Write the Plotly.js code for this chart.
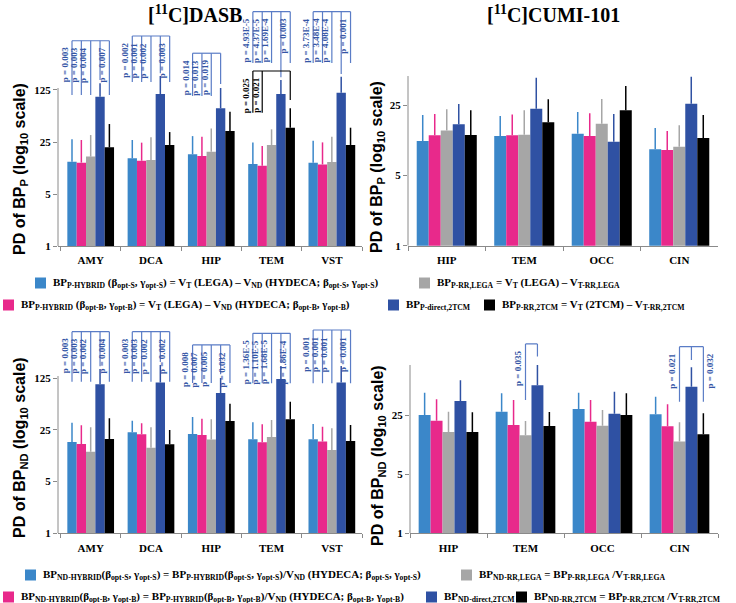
<!DOCTYPE html>
<html><head><meta charset="utf-8">
<script src="https://cdn.plot.ly/plotly-3.0.1.min.js"></script>
<style>body{margin:0;padding:0;background:#fff}#chart{width:736px;height:603px}</style>
</head><body><div id="chart"></div>
<script>
// ---------------- DATA ----------------
const dasbRegions = ['AMY','DCA','HIP','TEM','VST'];
const cumiRegions = ['HIP','TEM','OCC','CIN'];
const seriesColors = ['#3b87c9','#e8298b','#a6a6a6','#2f51a3','#000000'];

// [11C]DASB, PD of BP_P (mean, upper SD)
const dasbP_hybS   = [13.6, 15.1, 17.1, 12.65, 13.2];
const dasbP_hybB   = [13.2, 14.0, 16.2, 12.0, 12.5];
const dasbP_rrLega = [15.9, 14.3, 18.5, 22.8, 13.5];
const dasbP_direct = [101.6, 110, 70.9, 110, 115];
const dasbP_rr2tcm = [21.2, 22.8, 35.1, 38.9, 22.8];
const dasbP_hybS_sd   = [13.6, 11.5, 12.9, 11.9, 12.8];
const dasbP_hybB_sd   = [13.4, 10.5, 13.3, 10.1, 12.2];
const dasbP_rrLega_sd = [15.1, 14.6, 19.5, 14.2, 16.0];
const dasbP_direct_sd = [53, 83, 62, 60, 74];
const dasbP_rr2tcm_sd = [22.4, 11.2, 28.7, 32, 16.1];

// [11C]CUMI-101, PD of BP_P
const cumiP_hybS   = [11.0, 12.3, 13.0, 9.08];
const cumiP_hybB   = [12.5, 12.5, 12.3, 8.94];
const cumiP_rrLega = [14.0, 12.7, 16.3, 9.64];
const cumiP_direct = [16.1, 23.0, 10.8, 25.8];
const cumiP_rr2tcm = [12.6, 16.9, 22.2, 11.8];
const cumiP_hybS_sd   = [8.9, 7.2, 8.3, 5.7];
const cumiP_hybB_sd   = [7.9, 7.6, 8.4, 4.9];
const cumiP_rrLega_sd = [8.7, 9.5, 12.4, 6.1];
const cumiP_direct_sd = [9.5, 23.8, 9.6, 22.1];
const cumiP_rr2tcm_sd = [9.6, 11.6, 16.5, 8.1];

// [11C]DASB, PD of BP_ND
const dasbND_hybS   = [17.1, 23.1, 21.9, 18.6, 18.6];
const dasbND_hybB   = [16.1, 21.7, 21.2, 16.9, 17.3];
const dasbND_rrLega = [12.6, 14.3, 18.4, 20.0, 13.3];
const dasbND_direct = [102.8, 109, 78.4, 121, 109];
const dasbND_rr2tcm = [18.8, 15.9, 32.8, 34.6, 17.6];
const dasbND_hybS_sd   = [14.1, 10.0, 15.3, 12.9, 11.3];
const dasbND_hybB_sd   = [12.6, 8.9, 14.1, 12.7, 10.2];
const dasbND_rrLega_sd = [14.4, 12.7, 16.2, 13.9, 12.9];
const dasbND_direct_sd = [62, 78, 47, 61, 73];
const dasbND_rr2tcm_sd = [16.9, 8.9, 23.4, 25.2, 11.4];

// [11C]CUMI-101, PD of BP_ND
const cumiND_hybS   = [25.2, 27.6, 29.7, 25.7];
const cumiND_hybB   = [21.6, 19.2, 21.0, 18.5];
const cumiND_rrLega = [15.9, 14.5, 18.8, 12.2];
const cumiND_direct = [36.9, 56.7, 26.1, 54.6];
const cumiND_rr2tcm = [15.9, 18.7, 25.2, 14.9];
const cumiND_hybS_sd   = [21.1, 18.0, 16.6, 15.9];
const cumiND_hybB_sd   = [17.1, 18.7, 16.9, 15.2];
const cumiND_rrLega_sd = [11.7, 6.9, 10.1, 8.5];
const cumiND_direct_sd = [28.1, 41.9, 21.5, 38.1];
const cumiND_rr2tcm_sd = [11.2, 8.7, 20.4, 11.5];

// p-values (series index compared against reference series)
const pDasbP = [
  [[0,'p = 0.003'],[1,'p = 0.003'],[2,'p = 0.004'],[4,'p = 0.007']],
  [[0,'p = 0.002'],[1,'p = 0.001'],[2,'p = 0.002'],[4,'p = 0.003']],
  [[0,'p = 0.014'],[1,'p = 0.013'],[2,'p = 0.019']],
  [[0,'p = 4.93E-5'],[1,'p = 4.37E-5'],[2,'p = 1.69E-4'],[4,'p = 0.003']],
  [[0,'p = 3.73E-4'],[1,'p = 3.48E-4'],[2,'p = 4.08E-4'],[4,'p = 0.001']]
];
const pDasbP_TEMvsRR2TCM = [[0,'p = 0.025'],[1,'p = 0.021']];
const pDasbND = [
  [[0,'p = 0.003'],[1,'p = 0.003'],[2,'p = 0.002'],[4,'p = 0.004']],
  [[0,'p = 0.003'],[1,'p = 0.003'],[2,'p = 0.002'],[4,'p = 0.002']],
  [[0,'p = 0.008'],[1,'p = 0.007'],[2,'p = 0.005'],[4,'p = 0.032']],
  [[0,'p = 1.36E-5'],[1,'p = 1.10E-5'],[2,'p = 1.68E-5'],[4,'p = 1.86E-4']],
  [[0,'p = 0.001'],[1,'p = 0.001'],[2,'p = 0.001'],[4,'p = 0.001']]
];
const pCumiND_TEM = [[2,'p = 0.035']];
const pCumiND_CIN = [[2,'p = 0.021'],[4,'p = 0.032']];

// ---------------- HELPERS ----------------
const W = 736, H = 603;
const px = x => x / W, py = y => 1 - y / H;
const SERIF = 'Liberation Serif, Times New Roman, serif';
const SANS = 'Liberation Sans, Arial, sans-serif';
const GAP = 0.225;
const barX = (cat, s) => cat - (1 - GAP) / 2 + (s + 0.5) * (1 - GAP) / 5;
const BR_BLUE = '#5a7cc6', TXT_BLUE = '#3456a6';

const panels = [
  {id:'', cats:dasbRegions,
   means:[dasbP_hybS,dasbP_hybB,dasbP_rrLega,dasbP_direct,dasbP_rr2tcm],
   sds:[dasbP_hybS_sd,dasbP_hybB_sd,dasbP_rrLega_sd,dasbP_direct_sd,dasbP_rr2tcm_sd],
   xdom:[58,362], ydom:[246,8], top:3.199, tv:[1,5,25,125], axisTop:133},
  {id:'2', cats:cumiRegions,
   means:[cumiP_hybS,cumiP_hybB,cumiP_rrLega,cumiP_direct,cumiP_rr2tcm],
   sds:[cumiP_hybS_sd,cumiP_hybB_sd,cumiP_rrLega_sd,cumiP_direct_sd,cumiP_rr2tcm_sd],
   xdom:[408,718], ydom:[245.7,76], top:1.687, tv:[1,5,25], axisTop:48.6},
  {id:'3', cats:dasbRegions,
   means:[dasbND_hybS,dasbND_hybB,dasbND_rrLega,dasbND_direct,dasbND_rr2tcm],
   sds:[dasbND_hybS_sd,dasbND_hybB_sd,dasbND_rrLega_sd,dasbND_direct_sd,dasbND_rr2tcm_sd],
   xdom:[58,362], ydom:[533.3,320], top:2.880, tv:[1,5,25,125], axisTop:133},
  {id:'4', cats:cumiRegions,
   means:[cumiND_hybS,cumiND_hybB,cumiND_rrLega,cumiND_direct,cumiND_rr2tcm],
   sds:[cumiND_hybS_sd,cumiND_hybB_sd,cumiND_rrLega_sd,cumiND_direct_sd,cumiND_rr2tcm_sd],
   xdom:[410,718], ydom:[533.3,340], top:2.290, tv:[1,5,25], axisTop:98.6}
];

const traces = [];
const layout = {
  width: W, height: H, autosize: false,
  margin: {l:0, r:0, t:0, b:0},
  paper_bgcolor: '#fff', plot_bgcolor: '#fff',
  barmode: 'group', bargap: GAP, bargroupgap: 0,
  showlegend: false,
  font: {family: SERIF, color: '#000'},
  shapes: [], annotations: []
};

panels.forEach(p => {
  const xa = 'x' + p.id, ya = 'y' + p.id;
  p.means.forEach((m, s) => {
    traces.push({
      type: 'bar', x: p.cats, y: m, xaxis: xa, yaxis: ya,
      marker: {color: seriesColors[s], line: {width: 0}},
      error_y: {type: 'data', symmetric: false, array: p.sds[s], arrayminus: m.map(() => 0),
                color: seriesColors[s], thickness: 1.5, width: 0},
      hoverinfo: 'skip'
    });
  });
  layout['xaxis' + p.id] = {
    domain: [px(p.xdom[0]), px(p.xdom[1])], anchor: ya, type: 'category',
    showline: true, linecolor: '#8a8a8a', linewidth: 1, ticks: 'outside', tickson: 'boundaries',
    ticklen: 4, tickcolor: '#8a8a8a', showgrid: false, zeroline: false, ticklabelstandoff: 4,
    tickfont: {family: SERIF, size: 11, weight: 'bold', color: '#000'}
  };
  layout['yaxis' + p.id] = {
    domain: [py(p.ydom[0]), py(p.ydom[1])], anchor: xa, type: 'log',
    range: [0, p.top], tickvals: p.tv, ticktext: p.tv.map(String),
    ticks: 'outside', ticklen: 4, tickcolor: '#8a8a8a', showline: false,
    showgrid: false, zeroline: false,
    tickfont: {family: SERIF, size: 11, weight: 'bold', color: '#000'}
  };
  layout.shapes.push({type: 'line', xref: xa + ' domain', yref: ya, x0: 0, x1: 0,
    y0: 1, y1: p.axisTop, line: {color: '#8a8a8a', width: 1}});
});

// ---------------- SIGNIFICANCE BRACKETS ----------------
function bracket(pid, cat, ref, tests, topV, legBottom, refBottom, color, txtColor, rightSide) {
  const xa = 'x' + pid, ya = 'y' + pid;
  const xs = tests.map(t => barX(cat, t[0])).concat([barX(cat, ref)]);
  const x0 = Math.min(...xs), x1 = Math.max(...xs);
  const ln = {color: color, width: 1.2};
  layout.shapes.push({type: 'line', xref: xa, yref: ya, x0: x0, x1: x1, y0: topV, y1: topV, line: ln});
  layout.shapes.push({type: 'line', xref: xa, yref: ya, x0: barX(cat, ref), x1: barX(cat, ref), y0: topV, y1: refBottom, line: ln});
  tests.forEach((t, i) => {
    const x = barX(cat, t[0]);
    layout.shapes.push({type: 'line', xref: xa, yref: ya, x0: x, x1: x, y0: topV, y1: legBottom, line: ln});
    const right = rightSide && rightSide[i];
    layout.annotations.push({xref: xa, yref: ya, x: x, y: Math.log10(topV), text: t[1],
      textangle: -90, showarrow: false, xanchor: right ? 'left' : 'right', yanchor: 'top',
      yshift: -5,
      font: {family: SERIF, size: 9, weight: 'bold', color: txtColor}});
  });
}
// top-left: DASB BP_P
const tlTop = [574, 665, 390, 1410, 1410], tlBot = [107, 160, 104, 288, 288], tlRef = [170, 210, 150, 185, 205];
pDasbP.forEach((tests, c) => bracket('', c, 3, tests, tlTop[c], tlBot[c], tlRef[c], BR_BLUE, TXT_BLUE));
bracket('', 3, 4, pDasbP_TEMvsRR2TCM, 225, 62, 92, '#000', '#000');
// bottom-left: DASB BP_ND
const blTop = [527, 527, 349, 501, 556], blBot = [111, 111, 107, 106, 106], blRef = [180, 205, 140, 200, 200];
pDasbND.forEach((tests, c) => bracket('3', c, 3, tests, blTop[c], blBot[c], blRef[c], BR_BLUE, TXT_BLUE));
// bottom-right: CUMI BP_ND
bracket('4', 1, 3, pCumiND_TEM, 175, 38, 124, BR_BLUE, TXT_BLUE);
bracket('4', 3, 3, pCumiND_CIN, 162.6, 36.3, 113, BR_BLUE, TXT_BLUE, [false, true]);

// ---------------- TITLES ----------------
const ann = (x, y, text, font, extra) => layout.annotations.push(Object.assign(
  {xref: 'paper', yref: 'paper', x: px(x), y: py(y), text: text, showarrow: false, font: font,
   xanchor: 'center', yanchor: 'middle'}, extra || {}));
const titleFont = {family: SERIF, size: 20, weight: 'bold', color: '#000'};
ann(195, 14, '[<sup>11</sup>C]DASB', titleFont);
ann(553, 14, '[<sup>11</sup>C]CUMI-101', titleFont);
const axFont = {family: SANS, size: 16, weight: 'bold', color: '#000'};
ann(21, 169, 'PD of BP<sub>P</sub> (log<sub>10</sub> scale)', axFont, {textangle: -90});
ann(378, 167, 'PD of BP<sub>P</sub> (log<sub>10</sub> scale)', axFont, {textangle: -90});
ann(21, 448, 'PD of BP<sub>ND</sub> (log<sub>10</sub> scale)', axFont, {textangle: -90});
ann(378, 456, 'PD of BP<sub>ND</sub> (log<sub>10</sub> scale)', axFont, {textangle: -90});

// ---------------- LEGENDS ----------------
const legFont = {family: SERIF, size: 11, weight: 'bold', color: '#000'};
function legItem(sqX, y, s, text) {
  layout.shapes.push({type: 'rect', xref: 'paper', yref: 'paper', x0: px(sqX), x1: px(sqX + 11),
    y0: py(y + 5.5), y1: py(y - 5.5), fillcolor: seriesColors[s], line: {width: 0}});
  ann(sqX + 16, y, text, legFont, {xanchor: 'left', yanchor: 'middle'});
}
const bS = 'β<sub>opt-S</sub>, γ<sub>opt-S</sub>', bB = 'β<sub>opt-B</sub>, γ<sub>opt-B</sub>';
legItem(35, 283, 0, 'BP<sub>P-HYBRID</sub> (' + bS + ') = V<sub>T</sub> (LEGA) – V<sub>ND</sub> (HYDECA; ' + bS + ')');
legItem(419, 283, 2, 'BP<sub>P-RR,LEGA</sub> = V<sub>T</sub> (LEGA) – V<sub>T-RR,LEGA</sub>');
legItem(3, 305, 1, 'BP<sub>P-HYBRID</sub> (' + bB + ') = V<sub>T</sub> (LEGA) – V<sub>ND</sub> (HYDECA; ' + bB + ')');
legItem(388, 305, 3, 'BP<sub>P-direct,2TCM</sub>');
legItem(484, 305, 4, 'BP<sub>P-RR,2TCM</sub> = V<sub>T</sub> (2TCM) – V<sub>T-RR,2TCM</sub>');

legItem(25, 575, 0, 'BP<sub>ND-HYBRID</sub>(' + bS + ') = BP<sub>P-HYBRID</sub>(' + bS + ')/V<sub>ND</sub> (HYDECA; ' + bS + ')');
legItem(461, 575, 2, 'BP<sub>ND-RR,LEGA</sub> = BP<sub>P-RR,LEGA</sub> /V<sub>T-RR,LEGA</sub>');
legItem(3, 597, 1, 'BP<sub>ND-HYBRID</sub>(' + bB + ') = BP<sub>P-HYBRID</sub>(' + bB + ')/V<sub>ND</sub> (HYDECA; ' + bB + ')');
legItem(426, 597, 3, 'BP<sub>ND-direct,2TCM</sub>');
legItem(516, 597, 4, 'BP<sub>ND-RR,2TCM</sub> = BP<sub>P-RR,2TCM</sub> /V<sub>T-RR,2TCM</sub>');

Plotly.newPlot('chart', traces, layout, {staticPlot: true, displayModeBar: false});
</script>
</body></html>
